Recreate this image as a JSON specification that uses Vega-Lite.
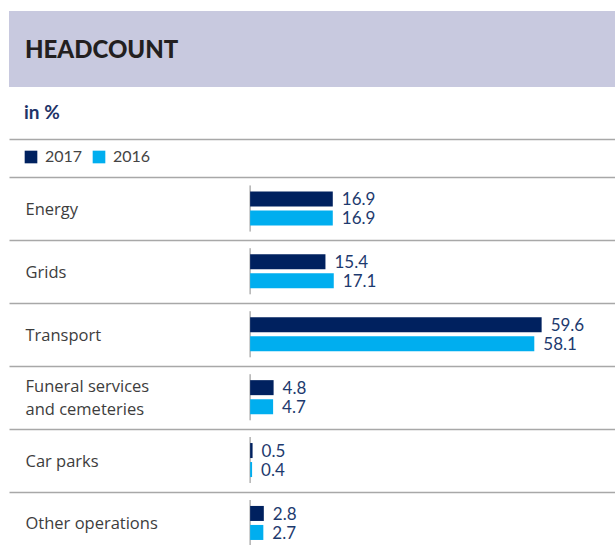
{
  "$schema": "https://vega.github.io/schema/vega-lite/v6.json",
  "padding": {"left": 9, "top": 11, "right": 0, "bottom": 0},
  "spacing": 0,
  "config": {"view": {"stroke": null}, "font": "Lato"},
  "resolve": {"scale": {"color": "independent"}, "legend": {"color": "independent"}},
  "datasets": {
    "bars": [
      {"cat": "Energy", "year": "2017", "value": 16.9},
      {"cat": "Energy", "year": "2016", "value": 16.9},
      {"cat": "Grids", "year": "2017", "value": 15.4},
      {"cat": "Grids", "year": "2016", "value": 17.1},
      {"cat": "Transport", "year": "2017", "value": 59.6},
      {"cat": "Transport", "year": "2016", "value": 58.1},
      {"cat": "Funeral services and cemeteries", "year": "2017", "value": 4.8},
      {"cat": "Funeral services and cemeteries", "year": "2016", "value": 4.7},
      {"cat": "Car parks", "year": "2017", "value": 0.5},
      {"cat": "Car parks", "year": "2016", "value": 0.4},
      {"cat": "Other operations", "year": "2017", "value": 2.8},
      {"cat": "Other operations", "year": "2016", "value": 2.7}
    ]
  },
  "vconcat": [
    {
      "width": 606,
      "height": 76,
      "view": {"fill": "#c8c9df", "stroke": null},
      "data": {"values": [{"t": "HEADCOUNT"}]},
      "mark": {"type": "text", "align": "left", "baseline": "middle", "dx": 16, "dy": 2, "fontSize": 24, "fontWeight": 900, "color": "#231f20"},
      "encoding": {
        "text": {"field": "t"},
        "x": {"datum": 0, "type": "quantitative", "scale": {"domain": [0, 1]}, "axis": null}
      }
    },
    {
      "width": 606,
      "height": 52,
      "data": {"values": [{"t": "in %"}]},
      "mark": {"type": "text", "align": "left", "baseline": "middle", "dx": 15, "fontSize": 19, "fontWeight": "bold", "color": "#1f3468"},
      "encoding": {
        "text": {"field": "t"},
        "x": {"datum": 0, "type": "quantitative", "scale": {"domain": [0, 1]}, "axis": null}
      }
    },
    {
      "width": 606,
      "height": 377.4,
      "data": {"name": "bars"},
      "encoding": {
        "y": {
          "field": "cat", "type": "nominal", "sort": null,
          "scale": {"paddingInner": 0, "paddingOuter": 0},
          "axis": {
            "title": null, "domain": false, "ticks": false, "grid": true,
            "gridColor": "#a8a8a8", "gridWidth": 1.5, "tickBand": "extent",
            "labelAlign": "left", "labelPadding": -16, "labelFont": "Open Sans", "labelFontSize": 16.5,
            "labelColor": "#3d3d3d", "labelLineHeight": 23, "labelBaseline": "middle", "labelLimit": 0,
            "labelOffset": {"condition": {"test": "datum.value == 'Funeral services and cemeteries'", "value": -11}, "value": 1},
            "labelExpr": "datum.value == 'Funeral services and cemeteries' ? ['Funeral services', 'and cemeteries'] : datum.label"
          }
        }
      },
      "layer": [
        {
          "mark": {"type": "tick", "color": "#9a9a9a", "thickness": 1, "size": 46},
          "encoding": {
            "x": {"datum": 0, "type": "quantitative", "scale": {"domain": [-49.3, 74.6], "nice": false, "zero": false}}
          }
        },
        {
          "mark": {"type": "bar"},
          "encoding": {
            "x": {
              "field": "value", "type": "quantitative",
              "scale": {"domain": [-49.3, 74.6], "nice": false, "zero": false},
              "axis": {"orient": "top", "offset": 38, "labels": false, "ticks": false, "grid": false, "title": null, "domainColor": "#a8a8a8", "domainWidth": 1.5}
            },
            "x2": {"datum": 0},
            "yOffset": {"field": "year", "sort": ["2017", "2016"], "scale": {"paddingInner": 0.21, "paddingOuter": 0.76}},
            "color": {
              "field": "year", "type": "nominal",
              "scale": {"domain": ["2017", "2016"], "range": ["#00215f", "#00aeef"]},
              "legend": {
                "title": null, "orient": "none", "legendX": 14, "legendY": -28, "direction": "horizontal",
                "symbolType": "square", "symbolSize": 160, "symbolStrokeWidth": 0, "symbolOpacity": 1,
                "labelFontSize": 16, "labelColor": "#444444", "labelOffset": 6, "columnPadding": 8
              }
            }
          }
        },
        {
          "mark": {"type": "text", "align": "left", "baseline": "middle", "dx": 9, "dy": 1.5, "fontSize": 17, "color": "#1d3a6e"},
          "encoding": {
            "x": {"field": "value", "type": "quantitative", "scale": {"domain": [-49.3, 74.6], "nice": false, "zero": false}},
            "yOffset": {"field": "year", "sort": ["2017", "2016"], "scale": {"paddingInner": 0.21, "paddingOuter": 0.76}},
            "text": {"field": "value", "type": "quantitative", "format": ".1f"}
          }
        }
      ]
    }
  ]
}
